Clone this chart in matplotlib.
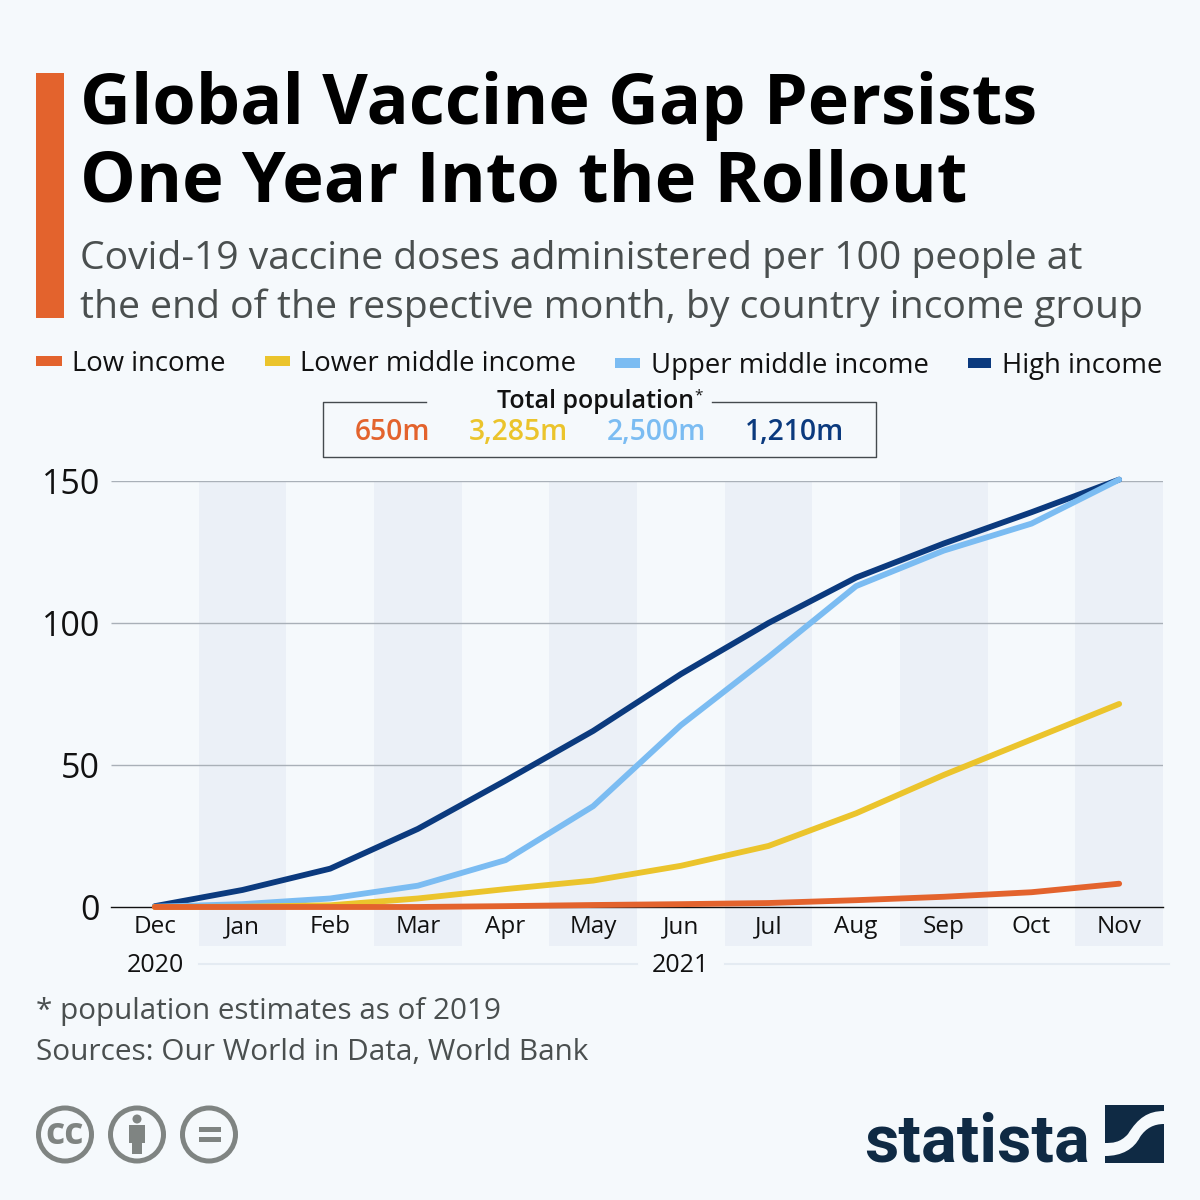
import matplotlib
matplotlib.use("Agg")
import matplotlib.pyplot as plt
from matplotlib.patches import Rectangle, Circle, PathPatch, Polygon
from matplotlib.path import Path

months = ["Dec","Jan","Feb","Mar","Apr","May","Jun","Jul","Aug","Sep","Oct","Nov"]
high_income = [0.3,6,13.5,27.5,44.5,62,82,100,116,128,139,150.5]
upper_middle = [0.1,1,3,7.5,16.5,35.5,64,88,113,125.5,135,150.5]
lower_middle = [0,0.1,0.6,3,6.3,9.3,14.5,21.5,33,46.5,59,71.5]
low_income = [0,0,0,0,0.3,0.7,1,1.4,2.4,3.6,5.2,8.2]
yticks = [0,50,100,150]
populations = ["650m","3,285m","2,500m","1,210m"]
series_names = ["Low income","Lower middle income","Upper middle income","High income"]

ORANGE="#e3632d"; YELLOW="#ebc42c"; LBLUE="#7bbcf2"; NAVY="#0b3a7e"
BG="#f5f9fc"; BAND="#ebf0f7"; LOGO="#0f2a44"; GREY="#4a4f4f"; ICON="#7f8482"
plt.rcParams['font.family']=['Open Sans','DejaVu Sans']

fig=plt.figure(figsize=(12,12),dpi=100,facecolor=BG)
W=H=1200
def axpx(l,t,r,b,**k):
    return fig.add_axes([l/W,1-b/H,(r-l)/W,(b-t)/H],**k)

ax=axpx(111,481,1163,946,facecolor='none')
ax.set_xlim(-0.5,11.5)
ax.set_ylim(-(946-907)/2.84,150)
ax.spines['bottom'].set_position(('data',0))
ax.spines['bottom'].set_color('#111111')
ax.spines['bottom'].set_linewidth(1.0)
ax.spines['bottom'].set_zorder(1.5)
for s in ['top','right','left']:
    ax.spines[s].set_visible(False)
for i in range(1,12,2):
    ax.axvspan(i-0.5,i+0.5,color=BAND,lw=0,zorder=0)
ax.set_yticks(yticks)
ax.set_yticklabels([str(v) for v in yticks],fontsize=24.5,color='#111111')
ax.tick_params(axis='y',length=0,pad=8)
ax.set_xticks(range(12))
ax.set_xticklabels(months,fontsize=17.5,color='#111111')
ax.tick_params(axis='x',length=0,pad=6)
for v in yticks[1:]:
    ax.plot([-0.5,11.5],[v,v],color='#a9b0b8',lw=1.0,zorder=1,solid_capstyle='butt')
for vals,c in [(high_income,NAVY),(upper_middle,LBLUE),(lower_middle,YELLOW),(low_income,ORANGE)]:
    ax.plot(range(12),vals,color=c,lw=4.2,solid_capstyle='round',solid_joinstyle='round',clip_on=False,zorder=3)

ov=fig.add_axes([0,0,1,1],facecolor='none')
ov.set_xlim(0,W); ov.set_ylim(H,0); ov.axis('off')
def T(x,y,s,fs,c='#111111',w='normal',ha='left',va='center',**k):
    return ov.text(x,y,s,fontsize=fs,color=c,fontweight=w,ha=ha,va=va,**k)

ov.add_patch(Rectangle((36,73),28,245,color='#e3632d',lw=0))
T(80,106,"Global Vaccine Gap Persists",50.5,'#000000','bold')
T(80,184,"One Year Into the Rollout",50.6,'#000000','bold')
T(80,259,"Covid-19 vaccine doses administered per 100 people at",28.2,GREY)
T(80,308,"the end of the respective month, by country income group",28.15,GREY)

# legend
for x0,x1,y,tx,name,c in [(36,62,361,72,series_names[0],ORANGE),(265,290,361,300,series_names[1],YELLOW),
                       (615,640,363,651,series_names[2],LBLUE),(968,991,363,1002,series_names[3],NAVY)]:
    ov.add_patch(Rectangle((x0,y-5),x1-x0,10,color=c,lw=0))
    T(tx,y+3,name,19.8)

# population box
ov.plot([426,323,323,876,876,712],[402,402,457,457,402,402],color='#444a4e',lw=1.0)
T(497,402,"Total population",18.0,'#111111','semibold')
T(694,396,"*",11,'#111111')
for cx,s,c in zip([392,518,656,795],populations,[ORANGE,YELLOW,LBLUE,NAVY]):
    T(cx,433,s,20.3,c,'semibold',ha='center')

# year axis
T(155,966,"2020",18,ha='center')
T(680,966,"2021",18,ha='center')
ov.plot([199,637],[964,964],color='#e4ebf2',lw=1.5)
ov.plot([725,1169],[964,964],color='#e4ebf2',lw=1.5)

# footer
T(36,1011,"* population estimates as of 2019",21.3,GREY)
T(36,1053,"Sources: Our World in Data, World Bank",21.4,GREY)

# licence icons
for cx in [65,137,209]:
    ov.add_patch(Circle((cx,1134.5),26.5,fc='none',ec=ICON,lw=3.6))
T(65,1134,"cc",27,ICON,'bold',ha='center')
ov.add_patch(Circle((137,1119),4.5,fc=ICON,ec='none'))
ov.add_patch(Polygon([(129,1125),(145,1125),(145,1143),(142,1143),(142,1154),(132,1154),(132,1143),(129,1143)],fc=ICON,ec='none'))
ov.add_patch(Rectangle((199,1127),22,5,fc=ICON,ec='none'))
ov.add_patch(Rectangle((199,1137),22,5,fc=ICON,ec='none'))

# statista logo
T(864,1162,"statista",48,LOGO,'bold',va='baseline',family=['Roboto','Open Sans'])
M,L,C,Z=Path.MOVETO,Path.LINETO,Path.CURVE4,Path.CLOSEPOLY
up=Path([(1105,1105),(1164,1105),(1164,1111),(1148,1111),(1138,1118),(1128,1134),(1120,1143),(1112,1143),(1105,1143),(1105,1105)],
        [M,L,L,C,C,C,C,C,L,Z])
lo=Path([(1164,1124),(1164,1163),(1105,1163),(1105,1156),(1122,1156),(1134,1149),(1140,1137),(1146,1128),(1154,1124),(1164,1124),(1164,1124)],
        [M,L,L,L,C,C,C,C,C,C,Z])
ov.add_patch(PathPatch(up,fc=LOGO,ec='none'))
ov.add_patch(PathPatch(lo,fc=LOGO,ec='none'))

fig.savefig("out.png",dpi=100,facecolor=BG)
